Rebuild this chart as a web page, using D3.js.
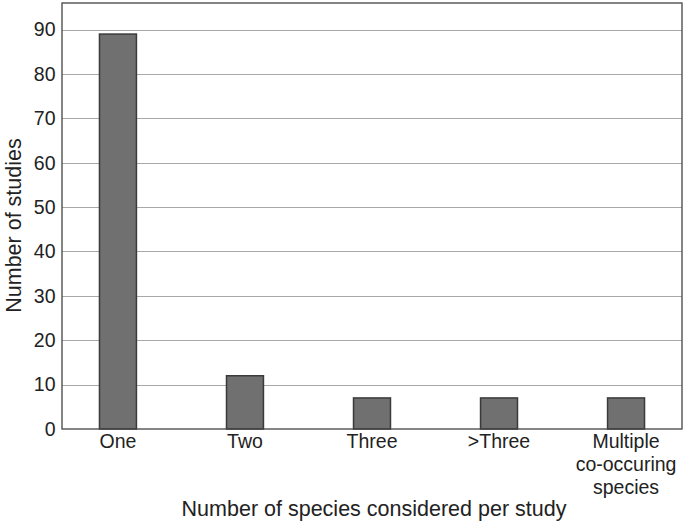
<!DOCTYPE html>
<html>
<head>
<meta charset="utf-8">
<script src="https://cdn.jsdelivr.net/npm/d3@7"></script>
<style>
  body { margin: 0; background: #fff; }
  svg { font-family: "Liberation Sans", Arial, sans-serif; }
</style>
</head>
<body>
<svg id="chart" width="685" height="523"></svg>
<script>
var categories = ["One", "Two", "Three", ">Three", "Multiple\nco-occuring\nspecies"];
var studies = [89, 12, 7, 7, 7];
var yTicks = [0, 10, 20, 30, 40, 50, 60, 70, 80, 90];

var margin = {top: 3, right: 3, bottom: 94, left: 62},
    width = 685 - margin.left - margin.right,
    height = 523 - margin.top - margin.bottom;

var svg = d3.select("#chart");
var g = svg.append("g")
    .attr("transform", "translate(" + margin.left + "," + margin.top + ")");

var x = d3.scaleBand()
    .domain(categories)
    .range([0, width])
    .paddingInner(0.709)
    .paddingOuter(0.295);

var y = d3.scaleLinear()
    .domain([0, 96])
    .range([height, 0]);

// gridlines
g.append("g")
    .selectAll("line")
    .data(yTicks.slice(1))
    .enter().append("line")
    .attr("x1", 0)
    .attr("x2", width)
    .attr("y1", function(d) { return Math.round(y(d)) + 0.5; })
    .attr("y2", function(d) { return Math.round(y(d)) + 0.5; })
    .attr("stroke", "#a8a8a8")
    .attr("stroke-width", 1.2);

// bars
g.append("g")
    .selectAll("rect")
    .data(studies)
    .enter().append("rect")
    .attr("x", function(d, i) { return x(categories[i]); })
    .attr("y", function(d) { return y(d); })
    .attr("width", x.bandwidth())
    .attr("height", function(d) { return height - y(d); })
    .attr("fill", "#707070")
    .attr("stroke", "#3a3a3a")
    .attr("stroke-width", 1.5);

// frame
g.append("rect")
    .attr("x", 0)
    .attr("y", 0)
    .attr("width", width)
    .attr("height", height)
    .attr("fill", "none")
    .attr("stroke", "#444")
    .attr("stroke-width", 1.3);

// y axis
var yAxis = g.append("g")
    .call(d3.axisLeft(y).tickValues(yTicks).tickSize(0).tickPadding(6.5));
yAxis.select(".domain").remove();
yAxis.selectAll("text")
    .attr("font-size", 19.5)
    .attr("font-family", "Liberation Sans, Arial, sans-serif")
    .attr("fill", "#222");

// x axis
var xAxis = g.append("g")
    .attr("transform", "translate(0," + height + ")")
    .call(d3.axisBottom(x).tickSize(0).tickFormat(""));
xAxis.select(".domain").remove();
xAxis.selectAll(".tick").each(function(d) {
    var lines = d.split("\n");
    var t = d3.select(this).append("text")
        .attr("fill", "#222")
        .attr("font-size", 19.5)
        .attr("text-anchor", "middle")
        .attr("y", 18.5);
    lines.forEach(function(l, i) {
        t.append("tspan").attr("x", 0).attr("dy", i === 0 ? 0 : 23).text(l);
    });
});

// axis titles
svg.append("text")
    .attr("x", 374)
    .attr("y", 515.5)
    .attr("text-anchor", "middle")
    .attr("font-size", 21.5)
    .attr("fill", "#222")
    .text("Number of species considered per study");

svg.append("text")
    .attr("transform", "translate(20.5,225.5) rotate(-90)")
    .attr("text-anchor", "middle")
    .attr("font-size", 21.5)
    .attr("fill", "#222")
    .text("Number of studies");
</script>
</body>
</html>
